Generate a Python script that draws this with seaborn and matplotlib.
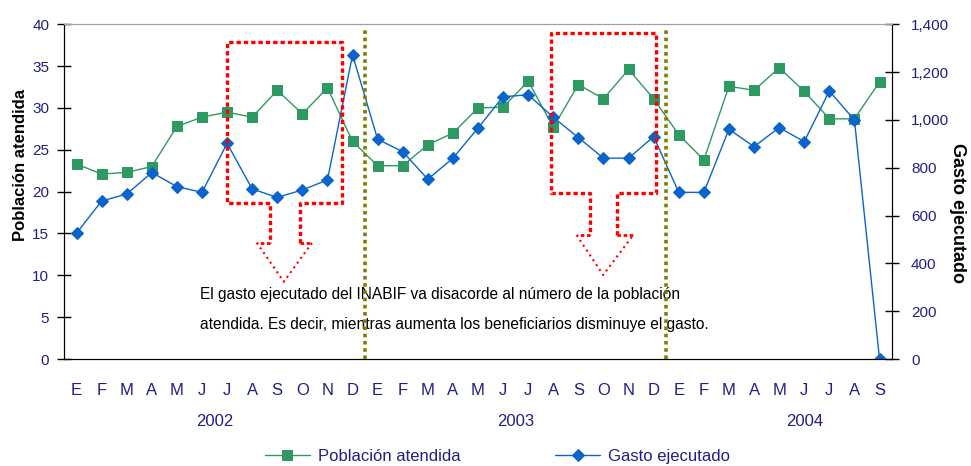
import numpy as np
import pandas as pd
import matplotlib.pyplot as plt
import seaborn as sns

# monthly series, Jan 2002 - Sep 2004
months = ["E", "F", "M", "A", "M", "J", "J", "A", "S", "O", "N", "D",
          "E", "F", "M", "A", "M", "J", "J", "A", "S", "O", "N", "D",
          "E", "F", "M", "A", "M", "J", "J", "A", "S"]
years = ["2002", "2003", "2004"]
year_pos = [5.5, 17.5, 29.0]

poblacion = [23.3, 22.1, 22.3, 23.0, 27.8, 28.9, 29.5, 28.9, 32.1, 29.3, 32.4, 26.0,
             23.1, 23.1, 25.6, 27.0, 30.0, 30.1, 33.2, 27.7, 32.8, 31.1, 34.6, 31.1,
             26.8, 23.8, 32.6, 32.1, 34.8, 32.0, 28.7, 28.7, 33.1]
gasto = [526, 661, 690, 780, 721, 697, 902, 711, 676, 707, 749, 1272,
         919, 867, 752, 840, 966, 1097, 1105, 1011, 926, 840, 840, 930,
         697, 697, 961, 888, 968, 909, 1121, 1000, 0]

nota = ("El gasto ejecutado del INABIF va disacorde al número de la población\n"
        "atendida. Es decir, mientras aumenta los beneficiarios disminuye el gasto.")

df = pd.DataFrame({"idx": np.arange(len(months)), "poblacion": poblacion, "gasto": gasto})

NAVY = "#1f1f8a"
GREEN = "#2e9a62"
BLUE = "#0a64cc"
RED = "#ff0000"
OLIVE = "#808000"

sns.set_style("white")
plt.rcParams["font.family"] = ["Liberation Sans", "DejaVu Sans"]

fig = plt.figure(figsize=(9.71, 4.66), dpi=100)
ax = fig.add_axes([0.0659, 0.2296, 0.8528, 0.7183])
ax2 = ax.twinx()

sns.lineplot(data=df, x="idx", y="poblacion", ax=ax, color=GREEN, lw=1.0,
             marker="s", markersize=7, markeredgecolor=GREEN, label="Población atendida",
             legend=False)
sns.lineplot(data=df, x="idx", y="gasto", ax=ax2, color=BLUE, lw=1.0,
             marker="D", markersize=6, markeredgecolor=BLUE, label="Gasto ejecutado",
             legend=False)

ax.set_xlim(-0.5, len(months) - 0.5)
ax.set_ylim(0, 40)
ax2.set_ylim(0, 1400)
ax.set_yticks(range(0, 41, 5))
ax2.set_yticks(range(0, 1401, 200))
ax2.set_yticklabels([f"{v:,}" for v in range(0, 1401, 200)])

ax.set_xticks(range(len(months)))
ax.set_xticklabels(months)
ax.set_xticks(np.arange(-0.5, len(months), 1), minor=True)
ax.tick_params(axis="x", which="major", length=0, pad=17, labelsize=12, labelcolor=NAVY)
ax.tick_params(axis="x", which="minor", direction="inout", length=9.4, width=1, color="black")
ax.tick_params(axis="y", direction="inout", length=9.4, width=1, color="black",
               labelsize=11, labelcolor=NAVY, pad=6, left=True)
ax2.tick_params(axis="y", direction="inout", length=9.4, width=1, color="black",
                labelsize=11, labelcolor=NAVY, pad=9, right=True)
ax.set_xlabel("")
ax.set_ylabel("")
ax2.set_ylabel("")

for a in (ax, ax2):
    a.spines["top"].set_color("#a0a0a0")
    a.spines["left"].set_color("black")
    a.spines["bottom"].set_color("black")
    a.spines["right"].set_color("black")
    a.grid(False)

for yr, xp in zip(years, year_pos):
    ax.text(xp, -0.188, yr, transform=ax.get_xaxis_transform(), ha="center", va="center",
            fontsize=12, color=NAVY)

fig.text(0.0206, 1 - 165 / 466, "Población atendida", rotation=90, ha="center", va="center",
         fontsize=12, fontweight="bold", color="black")
fig.text(0.9856, 1 - 213 / 466, "Gasto ejecutado", rotation=-90, ha="center", va="center",
         fontsize=13, fontweight="bold", color="black")

# note text (sits under the olive separators)
ax.text(4.92, 5.9, nota, ha="left", va="center", fontsize=11.2, color="black",
        linespacing=2.2, zorder=1)

# year separators
for xs in (11.5, 23.5):
    ax2.axvline(xs, ymin=0, ymax=0.99, color=OLIVE, lw=2.6, ls=(0, (1, 1)), zorder=6)

# red highlight boxes with arrows, in left-axis units
callouts = [
    dict(x0=5.99, x1=10.56, y0=18.64, y1=37.9, s0=7.71, s1=8.90, hy=13.9, h0=7.18, h1=9.39, tx=8.26, ty=9.24),
    dict(x0=18.9, x1=23.11, y0=19.8, y1=39.0, s0=20.46, s1=21.52, hy=14.8, h0=19.93, h1=22.18, tx=20.99, ty=10.04),
]
dot = (0, (1.3, 0.9))
for c in callouts:
    xs = [c["s1"], c["s1"], c["x1"], c["x1"], c["x0"], c["x0"], c["s0"], c["s0"]]
    ys = [c["hy"], c["y0"], c["y0"], c["y1"], c["y1"], c["y0"], c["y0"], c["hy"]]
    ax2.plot(xs, ys, color=RED, lw=2.4, ls=dot, transform=ax.transData, zorder=7)
    ax2.plot([c["s0"], c["h0"]], [c["hy"], c["hy"]], color=RED, lw=2.0, ls=dot,
             transform=ax.transData, zorder=7)
    ax2.plot([c["s1"], c["h1"]], [c["hy"], c["hy"]], color=RED, lw=2.0, ls=dot,
             transform=ax.transData, zorder=7)
    ax2.plot([c["h0"], c["tx"], c["h1"]], [c["hy"], c["ty"], c["hy"]], color=RED, lw=1.5,
             ls=(0, (1, 1.8)), transform=ax.transData, zorder=7)

ax.set_xlim(-0.5, len(months) - 0.5)
ax.set_ylim(0, 40)
ax2.set_ylim(0, 1400)

h1, l1 = ax.get_legend_handles_labels()
h2, l2 = ax2.get_legend_handles_labels()
leg = fig.legend(h1 + h2, l1 + l2, loc="center", bbox_to_anchor=(0.5123, 0.02), ncol=2,
                 frameon=False, fontsize=12, handlelength=2.7, handletextpad=0.46,
                 columnspacing=5.7, borderpad=0, labelcolor=NAVY)

fig.savefig("out.png", dpi=100)
